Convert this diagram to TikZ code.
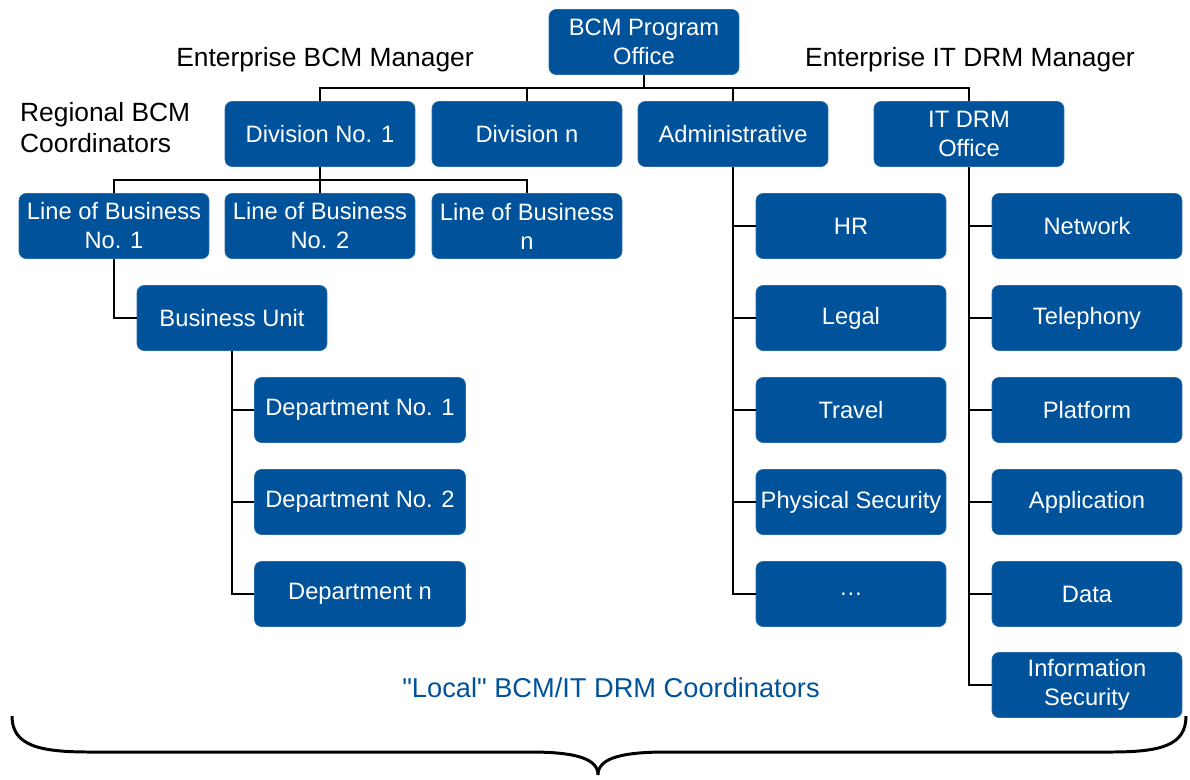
\documentclass[tikz,border=0pt]{standalone}
\usepackage{fontspec}
\setmainfont{Liberation Sans}[Ligatures=TeXOff]
\definecolor{orgblue}{RGB}{0,82,155}
\begin{document}
\begin{tikzpicture}[x=0.02cm,y=-0.02cm,
  orgbox/.style={fill=orgblue, draw=orgblue!85!white, rounded corners=4pt,
    text=white, align=center, minimum width=3.8cm, minimum height=1.3cm,
    inner sep=1pt, font=\fontsize{13.5}{16.5}\selectfont},
  widebox/.style={orgbox, minimum width=4.22cm},
  title/.style={font=\fontsize{15}{17.6}\selectfont},
  link/.style={line width=1.1pt}]
\useasboundingbox (0,0) rectangle (1190,779);
  % top of the chart
  \node[orgbox] (prog) at (644,42) {BCM Program\\Office};
  \node[title] (bcmmgr) at (325,60) {Enterprise BCM Manager};
  \node[title] (drmmgr) at (970,60) {Enterprise IT DRM Manager};
  \node[title, align=left, anchor=west] (regional) at (14,128) {Regional BCM\\Coordinators};
  % divisions
  \node[orgbox] (div1) at (320,134) {Division No. 1};
  \node[orgbox] (divn) at (527,134) {Division n};
  \node[orgbox] (admin) at (733,134) {Administrative};
  \node[orgbox] (itdrm) at (969,134) {IT DRM\\Office};
  % lines of business
  \node[orgbox] (lob1) at (114,226) {Line of Business\\No. 1};
  \node[orgbox] (lob2) at (320,226) {Line of Business\\No. 2};
  \node[orgbox] (lobn) at (527,226) {Line of Business\\n};
  \node[orgbox] (bu) at (232,318) {Business Unit};
  \node[widebox] (dep1) at (360,410) {Department No. 1};
  \node[widebox] (dep2) at (360,502) {Department No. 2};
  \node[widebox] (depn) at (360,594) {Department n};
  % administrative functions
  \node[orgbox] (hr) at (851,226) {HR};
  \node[orgbox] (legal) at (851,318) {Legal};
  \node[orgbox] (travel) at (851,410) {Travel};
  \node[orgbox] (physsec) at (851,502) {Physical Security};
  \node[orgbox] (etc) at (851,594) {\dots};
  % IT functions
  \node[orgbox] (network) at (1087,226) {Network};
  \node[orgbox] (teleph) at (1087,318) {Telephony};
  \node[orgbox] (platform) at (1087,410) {Platform};
  \node[orgbox] (app) at (1087,502) {Application};
  \node[orgbox] (data) at (1087,594) {Data};
  \node[orgbox] (infosec) at (1087,685) {Information\\Security};
  \node[title, text=orgblue, font=\fontsize{15.5}{18}\selectfont] (local) at (611,688)
    {"Local" BCM/IT DRM Coordinators};
  % connectors
  \coordinate (busA) at (0,88);
  \coordinate (busB) at (0,180);
  \draw[link] (div1.north) |- (itdrm.north |- busA) -- (itdrm.north);
  \foreach \n in {prog.south,divn.north,admin.north}
    \draw[link] (\n) -- (\n |- busA);
  \draw[link] (lob1.north) |- (lobn.north |- busB) -- (lobn.north);
  \foreach \n in {div1.south,lob2.north}
    \draw[link] (\n) -- (\n |- busB);
  \draw[link] (lob1.south) |- (bu.west);
  \draw[link] (bu.south) |- (depn.west);
  \foreach \n in {dep1,dep2}
    \draw[link] (bu.south |- \n.west) -- (\n.west);
  \draw[link] (admin.south) |- (etc.west);
  \foreach \n in {hr,legal,travel,physsec}
    \draw[link] (admin.south |- \n.west) -- (\n.west);
  \draw[link] (itdrm.south) |- (infosec.west);
  \foreach \n in {network,teleph,platform,app,data}
    \draw[link] (itdrm.south |- \n.west) -- (\n.west);
  % brace under everything
  \coordinate (braceL) at (12,716);
  \coordinate (braceR) at (1186,716);
  \coordinate (braceTip) at (598,775);
  \draw[line width=1.7pt] (braceL) .. controls (12,746) and (40,752) .. (90,752)
    -- (530,752) .. controls (580,752) and (598,760) .. (braceTip)
    .. controls (598,760) and (616,752) .. (666,752)
    -- (1110,752) .. controls (1160,752) and (1186,746) .. (braceR);
\end{tikzpicture}
\end{document}
